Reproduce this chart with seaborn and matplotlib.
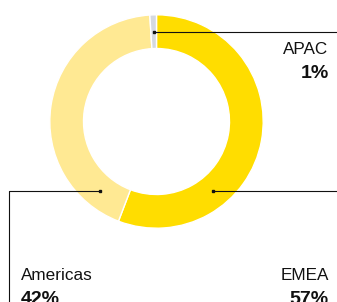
import numpy as np
import matplotlib
matplotlib.use("Agg")
import matplotlib.pyplot as plt
import seaborn as sns

# Data
regions = ["EMEA", "Americas", "APAC"]
shares = [55.8, 43.2, 1.0]          # wedge sizes as drawn
share_labels = ["57%", "42%", "1%"]  # printed labels
colors = ["#FFDD00", "#FFE993", "#D5D9E0"]

sns.set_style("white")
plt.rcParams["font.family"] = ["Liberation Sans", "DejaVu Sans"]

W, H = 337, 302
fig = plt.figure(figsize=(W / 100, H / 100), dpi=100)
ax = fig.add_axes([0, 0, 1, 1])

cx, cy = 156.5, H - 121.5
R, r_in = 106.7, 73.0
ring = R - r_in
wedges, _ = ax.pie(shares, colors=colors, startangle=90, counterclock=False,
                   radius=R, center=(cx, cy), frame=True,
                   wedgeprops=dict(width=ring, edgecolor="white", linewidth=1))
ax.set_xlim(0, W)
ax.set_ylim(0, H)
ax.set_aspect("equal")
ax.axis("off")

rm = (R + r_in) / 2

def pt_at_y(y, side):
    dy = y - cy
    dx = np.sqrt(max(rm**2 - dy**2, 0))
    return cx + side * dx

lc = "#111111"
lw = 0.8

# APAC: anchor at wedge middle
w = wedges[2]
ang = np.deg2rad((w.theta1 + w.theta2) / 2)
ax_, ay_ = cx + rm * np.cos(ang), cy + rm * np.sin(ang)
ax.plot([ax_, W], [ay_, ay_], color=lc, lw=lw)
ax.plot([ax_], [ay_], "s", color=lc, ms=1.6)

# EMEA & Americas leaders at same height
ly = H - 191.0
ex = pt_at_y(ly, 1)
ax.plot([ex, W], [ly, ly], color=lc, lw=lw)
ax.plot([ex], [ly], "s", color=lc, ms=1.6)
amx = pt_at_y(ly, -1)
ax.plot([amx, 9, 9], [ly, ly, -2], color=lc, lw=lw)
ax.plot([amx], [ly], "s", color=lc, ms=1.6)

fs_lab, fs_val = 12.3, 14
tc = "#111111"
# APAC
ax.text(328.5, H - 54.3, regions[2], ha="right", va="baseline", fontsize=fs_lab, color=tc)
ax.text(328.5, H - 78.3, share_labels[2], ha="right", va="baseline", fontsize=fs_val,
        fontweight="bold", color=tc)
# EMEA
ax.text(329, H - 279.5, regions[0], ha="right", va="baseline", fontsize=fs_lab, color=tc)
ax.text(329, H - 303.5, share_labels[0], ha="right", va="baseline", fontsize=fs_val,
        fontweight="bold", color=tc)
# Americas
ax.text(20.5, H - 279.5, regions[1], ha="left", va="baseline", fontsize=fs_lab, color=tc)
ax.text(20.5, H - 303.5, share_labels[1], ha="left", va="baseline", fontsize=fs_val,
        fontweight="bold", color=tc)

fig.savefig("out.png", dpi=100)
